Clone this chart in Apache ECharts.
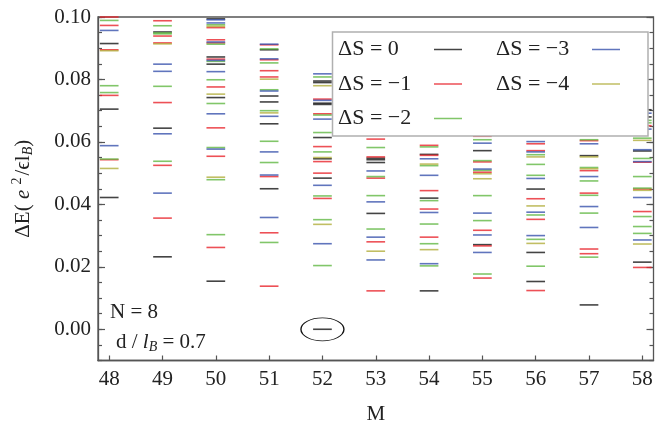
<!DOCTYPE html>
<html>
<head>
<meta charset="utf-8">
<script src="https://cdn.jsdelivr.net/npm/echarts@6/dist/echarts.min.js"></script>
<style>
  html, body { margin: 0; padding: 0; background: #fff; }
  #chart { width: 664px; height: 424px; }
</style>
</head>
<body>
<div id="chart"></div>
<script>
// Angular momentum sectors M shown on the horizontal axis
const M_TICKS = [48, 49, 50, 51, 52, 53, 54, 55, 56, 57, 58];
// Labelled energy ticks and the finer 0.005 ticks
const E_MAJOR_TICKS = [0, 0.02, 0.04, 0.06, 0.08, 0.10];
const E_MINOR_TICKS = [-0.01, -0.005, 0, 0.005, 0.01, 0.015, 0.02, 0.025, 0.03, 0.035, 0.04, 0.045,
  0.05, 0.055, 0.06, 0.065, 0.07, 0.075, 0.08, 0.085, 0.09, 0.095, 0.10];

// Excitation energies [M, ΔE] grouped by spin change ΔS
const levelsS0 = [
  [48, 0.0915], [48, 0.0705], [48, 0.0422],
  [49, 0.0952], [49, 0.0644], [49, 0.0232],
  [50, 0.0994], [50, 0.0872], [50, 0.0849], [50, 0.0742], [50, 0.0154],
  [51, 0.0895], [51, 0.0747], [51, 0.0728], [51, 0.0658], [51, 0.0450],
  [52, 0.0795], [52, 0.0790], [52, 0.0724], [52, 0.0720], [52, 0.0614], [52, 0.0546], [52, 0.0484], [52, 0.0000],
  [53, 0.0548], [53, 0.0543], [53, 0.0534], [53, 0.0371],
  [54, 0.0560], [54, 0.0420], [54, 0.0123],
  [55, 0.0572], [55, 0.0271],
  [56, 0.0449], [56, 0.0246], [56, 0.0153],
  [57, 0.0556], [57, 0.0078],
  [58, 0.0703], [58, 0.0680], [58, 0.0571], [58, 0.0215]
];
const levelsS1 = [
  [48, 0.1000], [48, 0.0973], [48, 0.0895], [48, 0.0749], [48, 0.0543],
  [49, 0.0988], [49, 0.0939], [49, 0.0917], [49, 0.0726], [49, 0.0525], [49, 0.0356],
  [50, 0.0966], [50, 0.0927], [50, 0.0917], [50, 0.0865], [50, 0.0776], [50, 0.0645], [50, 0.0554], [50, 0.0262],
  [51, 0.0911], [51, 0.0863], [51, 0.0828], [51, 0.0808], [51, 0.0489], [51, 0.0309], [51, 0.0138],
  [52, 0.0737], [52, 0.0690], [52, 0.0585], [52, 0.0537], [52, 0.0500], [52, 0.0419],
  [53, 0.0609], [53, 0.0552], [53, 0.0484], [53, 0.0280], [53, 0.0123],
  [54, 0.0589], [54, 0.0557], [54, 0.0444], [54, 0.0385], [54, 0.0295],
  [55, 0.0618], [55, 0.0536], [55, 0.0503], [55, 0.0317], [55, 0.0267], [55, 0.0164],
  [56, 0.0594], [56, 0.0572], [56, 0.0418], [56, 0.0352], [56, 0.0124],
  [57, 0.0604], [57, 0.0508], [57, 0.0436], [57, 0.0257], [57, 0.0242],
  [58, 0.0652], [58, 0.0535], [58, 0.0449], [58, 0.0377], [58, 0.0198]
];
const levelsS2 = [
  [48, 0.0989], [48, 0.0780], [48, 0.0758], [48, 0.0545],
  [49, 0.0972], [49, 0.0949], [49, 0.0946], [49, 0.0778], [49, 0.0538],
  [50, 0.0975], [50, 0.0913], [50, 0.0858], [50, 0.0799], [50, 0.0723], [50, 0.0582], [50, 0.0479], [50, 0.0303],
  [51, 0.0898], [51, 0.0853], [51, 0.0767], [51, 0.0700], [51, 0.0602], [51, 0.0534], [51, 0.0278],
  [52, 0.0808], [52, 0.0686], [52, 0.0630], [52, 0.0568], [52, 0.0427], [52, 0.0351], [52, 0.0204],
  [53, 0.0582], [53, 0.0489], [53, 0.0428], [53, 0.0321],
  [54, 0.0584], [54, 0.0524], [54, 0.0412], [54, 0.0337], [54, 0.0274], [54, 0.0203],
  [55, 0.0607], [55, 0.0540], [55, 0.0509], [55, 0.0428], [55, 0.0348], [55, 0.0177],
  [56, 0.0559], [56, 0.0528], [56, 0.0493], [56, 0.0366], [56, 0.0288], [56, 0.0202],
  [57, 0.0607], [57, 0.0518], [57, 0.0475], [57, 0.0429], [57, 0.0372], [57, 0.0231],
  [58, 0.0669], [58, 0.0661], [58, 0.0612], [58, 0.0547], [58, 0.0489], [58, 0.0452], [58, 0.0361], [58, 0.0329], [58, 0.0307]
];
const levelsS3 = [
  [48, 0.0957], [48, 0.0588],
  [49, 0.0849], [49, 0.0826], [49, 0.0626], [49, 0.0436],
  [50, 0.0991], [50, 0.0981], [50, 0.0920], [50, 0.0861], [50, 0.0825], [50, 0.0690], [50, 0.0577],
  [51, 0.0913], [51, 0.0866], [51, 0.0763], [51, 0.0682], [51, 0.0568], [51, 0.0494], [51, 0.0358],
  [52, 0.0818], [52, 0.0733], [52, 0.0673], [52, 0.0461], [52, 0.0274],
  [53, 0.0507], [53, 0.0408], [53, 0.0295], [53, 0.0222],
  [54, 0.0546], [54, 0.0493], [54, 0.0374], [54, 0.0210],
  [55, 0.0596], [55, 0.0513], [55, 0.0372], [55, 0.0302], [55, 0.0246],
  [56, 0.0601], [56, 0.0568], [56, 0.0483], [56, 0.0375], [56, 0.0300],
  [57, 0.0594], [57, 0.0489], [57, 0.0393], [57, 0.0326],
  [58, 0.0692], [58, 0.0641], [58, 0.0575], [58, 0.0537], [58, 0.0422], [58, 0.0286]
];
const levelsS4 = [
  [48, 0.0892], [48, 0.0515],
  [49, 0.0914],
  [50, 0.0970], [50, 0.0753], [50, 0.0487],
  [51, 0.0801], [51, 0.0693],
  [52, 0.0780], [52, 0.0550], [52, 0.0336],
  [53, 0.0250],
  [54, 0.0529], [54, 0.0255],
  [55, 0.0498], [55, 0.0482],
  [56, 0.0552], [56, 0.0395], [56, 0.0275],
  [57, 0.0552], [57, 0.0514],
  [58, 0.0605], [58, 0.0445], [58, 0.0273]
];

const seriesNames = ['ΔS = 0', 'ΔS = −1', 'ΔS = −2', 'ΔS = −3', 'ΔS = −4'];
const seriesColors = ['#151515', '#e8242c', '#62b844', '#3852ac', '#b2ae3c'];
const seriesLevels = [levelsS0, levelsS1, levelsS2, levelsS3, levelsS4];

// Ground state marker location (M, ΔE)
const groundState = [52, 0];

const SERIF = 'Liberation Serif';
const TEXT_COLOR = '#222';
const AXIS_COLOR = '#555';

const chart = echarts.init(document.getElementById('chart'), null, { renderer: 'canvas' });

function yAxisDef(position, ticks, tickLen, withLabels) {
  return {
    type: 'value',
    position: position,
    min: -0.01,
    max: 0.10,
    axisLine: { show: withLabels, onZero: false, lineStyle: { color: AXIS_COLOR, width: 1.3 } },
    axisTick: { show: true, inside: true, length: tickLen, customValues: ticks,
      lineStyle: { color: AXIS_COLOR, width: 1.2 } },
    axisLabel: withLabels && position === 'left' ? {
      show: true, customValues: E_MAJOR_TICKS, margin: 7,
      formatter: v => v.toFixed(2),
      fontFamily: SERIF, fontSize: 21, color: TEXT_COLOR
    } : { show: false },
    splitLine: { show: false }
  };
}

const yMain = yAxisDef('left', E_MAJOR_TICKS, 7, true);
yMain.name = '{n|ΔE(}{i| e }{s|2}{n|/ϵl}{b|B}{n|)}';
yMain.nameLocation = 'middle';
yMain.nameRotate = 90;
yMain.nameGap = 62;
yMain.nameTextStyle = {
  fontFamily: SERIF, fontSize: 21, color: TEXT_COLOR,
  rich: {
    n: { fontFamily: SERIF, fontSize: 21, color: TEXT_COLOR, verticalAlign: 'middle' },
    i: { fontFamily: SERIF, fontSize: 21, fontStyle: 'italic', color: TEXT_COLOR, verticalAlign: 'middle' },
    s: { fontFamily: SERIF, fontSize: 14, color: TEXT_COLOR, verticalAlign: 'middle', padding: [0, 2, 12, 0] },
    b: { fontFamily: SERIF, fontSize: 14, fontStyle: 'italic', color: TEXT_COLOR, verticalAlign: 'middle', padding: [10, 0, 0, 0] }
  }
};

const legendRich = {
  t: { width: 91, align: 'left', fontFamily: SERIF, fontSize: 22, lineHeight: 22, color: TEXT_COLOR }
};
function legendDef(names, left) {
  return {
    data: names,
    orient: 'vertical',
    left: left,
    top: 38.5,
    padding: 0,
    itemGap: 12.5,
    align: 'right',
    icon: 'rect',
    itemWidth: 28,
    itemHeight: 1.5,
    selectedMode: false,
    z: 20,
    formatter: '{t|{name}}',
    textStyle: { fontFamily: SERIF, fontSize: 22, color: TEXT_COLOR, rich: legendRich }
  };
}

const series = seriesLevels.map((levels, k) => ({
  name: seriesNames[k],
  type: 'scatter',
  data: levels,
  symbol: 'rect',
  symbolSize: [18.7, 1.6],
  itemStyle: { color: seriesColors[k] },
  emphasis: { disabled: true },
  silent: true,
  z: 2 + k
}));

// Ellipse marking the ground state
series[0].markPoint = {
  silent: true,
  symbol: 'path://M0,10 A10,10 0 1,1 20,10 A10,10 0 1,1 0,10 Z',
  symbolSize: [43, 23],
  itemStyle: { color: 'rgba(0,0,0,0)', borderColor: '#111', borderWidth: 1 },
  label: { show: false },
  data: [{ coord: groundState }]
};

chart.setOption({
  animation: false,
  backgroundColor: '#fff',
  grid: {
    left: 98, right: 10.5, top: 17, bottom: 63.5,
    show: true, borderColor: AXIS_COLOR, borderWidth: 1.3,
    containLabel: false, outerBoundsMode: 'none'
  },
  xAxis: [{
    type: 'value',
    min: 47.79,
    max: 58.21,
    axisLine: { show: true, onZero: false, lineStyle: { color: AXIS_COLOR, width: 1.3 } },
    axisTick: { show: true, inside: true, length: 5, customValues: M_TICKS,
      lineStyle: { color: AXIS_COLOR, width: 1.2 } },
    axisLabel: { show: true, customValues: M_TICKS, margin: 8,
      fontFamily: SERIF, fontSize: 21, color: TEXT_COLOR },
    splitLine: { show: false },
    name: 'M',
    nameLocation: 'middle',
    nameGap: 43,
    nameTextStyle: { fontFamily: SERIF, fontSize: 21, color: TEXT_COLOR }
  }],
  yAxis: [
    yMain,
    yAxisDef('left', E_MINOR_TICKS, 4, false),
    yAxisDef('right', E_MAJOR_TICKS, 7, false),
    yAxisDef('right', E_MINOR_TICKS, 4, false)
  ],
  legend: [
    legendDef(seriesNames.slice(0, 3), 338),
    legendDef(seriesNames.slice(3), 496)
  ],
  graphic: [
    {
      type: 'rect', z: 15, silent: true,
      shape: { x: 332.5, y: 32, width: 315.5, height: 104 },
      style: { fill: '#fff', stroke: '#b0b0b0', lineWidth: 1.5 }
    },
    {
      type: 'text', z: 15, silent: true, x: 110, y: 312,
      style: { text: 'N = 8', font: '21px "Liberation Serif"', fill: TEXT_COLOR, verticalAlign: 'middle' }
    },
    {
      type: 'text', z: 15, silent: true, x: 116, y: 342,
      style: {
        text: '{n|d / }{i|l}{b|B}{n| = 0.7}',
        verticalAlign: 'middle',
        rich: {
          n: { fontFamily: SERIF, fontSize: 21, fill: TEXT_COLOR, verticalAlign: 'middle' },
          i: { fontFamily: SERIF, fontSize: 21, fontStyle: 'italic', fill: TEXT_COLOR, verticalAlign: 'middle' },
          b: { fontFamily: SERIF, fontSize: 14, fontStyle: 'italic', fill: TEXT_COLOR, verticalAlign: 'middle', padding: [10, 0, 0, 0] }
        }
      }
    }
  ],
  series: series
});
</script>
</body>
</html>
